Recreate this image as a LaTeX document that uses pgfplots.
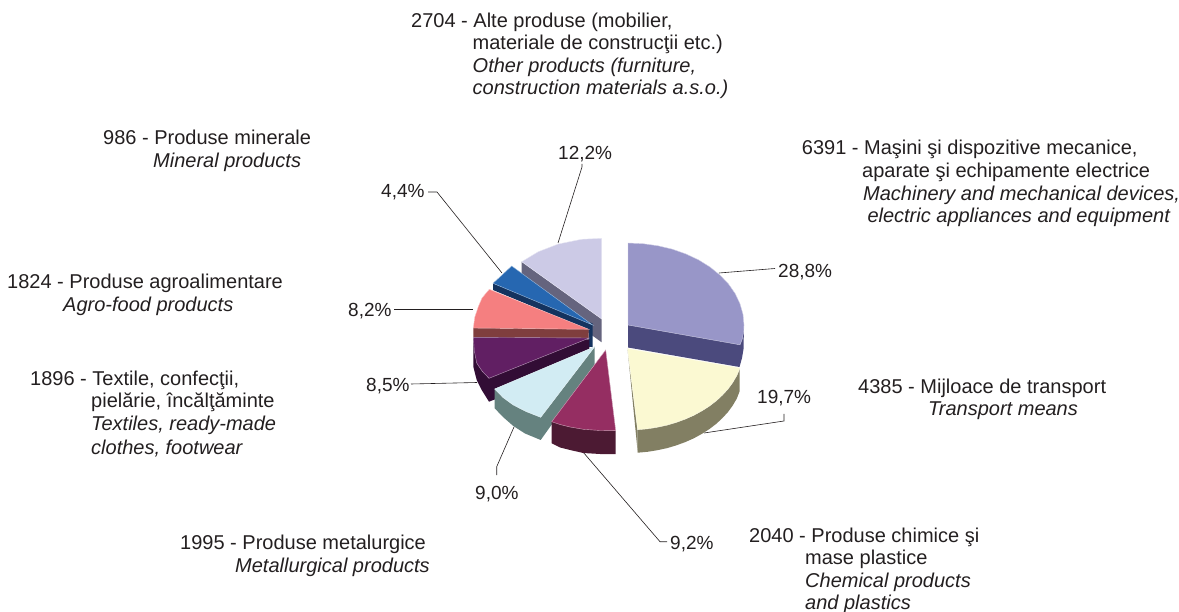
\documentclass[border=0pt]{standalone}
\usepackage{fontspec}
\setmainfont{Liberation Sans}
\usepackage{pgfplots}
\pgfplotsset{compat=1.18}
\definecolor{ink}{HTML}{231F20}
\definecolor{lavTop}{HTML}{9896C8}\definecolor{lavSide}{HTML}{4B4A7D}
\definecolor{yelTop}{HTML}{FBF9D2}\definecolor{yelSide}{HTML}{827F63}
\definecolor{magTop}{HTML}{952E62}\definecolor{magSide}{HTML}{4C1A33}
\definecolor{cyaTop}{HTML}{D2ECF3}\definecolor{cyaSide}{HTML}{65827F}
\definecolor{purTop}{HTML}{611F63}\definecolor{purSide}{HTML}{320D35}
\definecolor{salTop}{HTML}{F57F80}\definecolor{salSide}{HTML}{7F3E3E}
\definecolor{bluTop}{HTML}{2667B1}\definecolor{bluSide}{HTML}{14335F}
\definecolor{lilTop}{HTML}{CCCAE6}\definecolor{lilSide}{HTML}{65647E}
\newcommand{\lbl}[3]{\node[anchor=base west,inner sep=0pt,yshift=-1pt,text=ink,font=\fontsize{20}{24}\selectfont] at (axis cs:#1,#2) {#3};}
\newcommand{\pct}[3]{\node[anchor=base west,inner sep=0pt,yshift=-1pt,text=ink,font=\fontsize{19}{23}\selectfont] at (axis cs:#1,#2) {#3};}
\begin{document}
\begin{tikzpicture}
\begin{axis}[
  scale only axis, width=1179pt, height=612pt,
  xmin=0, xmax=1179, ymin=0, ymax=612, y dir=reverse,
  hide axis, clip=false,
  leader/.style={ink,line width=0.6pt,no markers},
  side/.style={fill=#1,draw=none,no markers},
  top/.style={fill=#1,draw=white!55!#1,line width=0.4pt,no markers}
]
% leader lines
\addplot[leader] coordinates {(719,273)(775,268.5)};
\addplot[leader] coordinates {(704,433)(784,421)(784,414)};
\addplot[leader] coordinates {(583,452)(660,541.7)(667,541.7)};
\addplot[leader] coordinates {(514,427)(496.7,466.7)(496.7,475)};
\addplot[leader] coordinates {(477,382.5)(411,384)};
\addplot[leader] coordinates {(473,309)(394,309)};
\addplot[leader] coordinates {(502,273)(437,192)(428,192)};
\addplot[leader] coordinates {(558,243)(582,167)(582,164)};
% other products
\addplot[side=lilSide] coordinates {(521.7,261.7)(521.7,285)(601.7,342.3)(601.7,319)} -- cycle;
\addplot[top=lilTop] coordinates {(601.7,319)(601.7,238.3)(581.7,239.3)(558.3,244)(538.3,251.7)(521.7,261.7)} -- cycle;
% mineral products
\addplot[side=bluSide] coordinates {(592.7,323.5)(592.7,347)(588.5,347)(588.5,330)(493,290)(493,283.3)} -- cycle;
\addplot[top=bluTop] coordinates {(592.7,325)(511.7,266)(501,276)(493,283.3)} -- cycle;
% agro-food
\addplot[side=salSide] coordinates {(473.3,327)(588.7,329.3)(588.7,338)(473.3,338)} -- cycle;
\addplot[top=salTop] coordinates {(588.7,329.3)(489.3,289.3)(482,298)(478.3,306.7)(474.8,317)(473.3,328)} -- cycle;
% textiles
\addplot[side=purSide] coordinates {(589.3,339.3)(589.3,362.6)(489,401.7)(481.7,390)(476.7,380)(473.3,366.7)(473.3,337.3)} -- cycle;
\addplot[top=purTop] coordinates {(589.3,338)(473.3,337.3)(474.3,351)(476.7,363)(482,371)(489,378.3)} -- cycle;
% metallurgical
\addplot[side=cyaSide] coordinates {(594.7,346.7)(594.7,364.3)(540.7,440)(525,433.5)(513.3,426)(503,417)(494.7,408.3)(494.7,389)} -- cycle;
\addplot[top=cyaTop] coordinates {(594.7,346.7)(494.7,389)(503,397.5)(513.3,405)(526,411.5)(540.7,417.3)} -- cycle;
% chemical
\addplot[side=magSide] coordinates {(551.7,421.7)(551.7,443.3)(560,447.5)(570,450)(583.3,453)(600,454)(615.7,454)(615.7,430.7)} -- cycle;
\addplot[top=magTop] coordinates {(605.7,350)(551.7,421.7)(560,424.5)(570,427)(583.3,429.3)(600,430.5)(615.7,430.7)} -- cycle;
% transport
\addplot[side=yelSide] coordinates {(627.5,348.5)(637.7,429.3)(637.7,452.3)} -- cycle;
\addplot[side=yelSide] coordinates {(739.5,368)(739.5,391.5)(736.9,398.4)(732.6,405.7)(728,412)(722.5,418)(716.4,423.7)(709.5,429)(702,433.8)(694,438.2)(685.5,442)(676.5,445.3)(667.2,448.1)(657.5,450.2)(647.6,451.8)(637.7,452.7)(637.7,429.7)} -- cycle;
\addplot[top=yelTop] coordinates {(627.5,348.5)(740,368)(736.9,375.4)(732.6,382.7)(728,389)(722.5,395)(716.4,400.7)(709.5,406)(702,410.8)(694,415.2)(685.5,419)(676.5,422.3)(667.2,425.1)(657.5,427.2)(647.6,428.8)(637.6,429.7)} -- cycle;
% machinery
\addplot[side=lavSide] coordinates {(628,325)(628,347.5)(739.5,367)(742,358)(743.5,349)(744,325)} -- cycle;
\addplot[top=lavTop] coordinates {(628,325)(628,243)(643.1,243.7)(658,245.8)(672.4,249.2)(686,254)(698.6,259.9)(710,267)(720,275.1)(728.5,284)(735.2,293.6)(740,303.8)(743,314.3)(744,325)(743.6,332.1)(742.2,339.2)(740,344.8)} -- cycle;
% percentages
\pct{558}{159}{12,2\%}
\pct{778}{277}{28,8\%}
\pct{757}{403}{19,7\%}
\pct{381}{197}{4,4\%}
\pct{348}{316}{8,2\%}
\pct{366}{391}{8,5\%}
\pct{475}{498}{9,0\%}
\pct{670}{548}{9,2\%}
% category texts
\lbl{411}{27}{2704 - Alte produse (mobilier,}
\lbl{472.5}{49}{materiale de construcţii etc.)}
\lbl{472.5}{72}{\itshape Other products (furniture,}
\lbl{472.5}{94}{\itshape construction materials a.s.o.)}
\lbl{801.7}{154}{6391 - Maşini şi dispozitive mecanice,}
\lbl{862}{177}{aparate şi echipamente electrice}
\lbl{863}{200}{\itshape Machinery and mechanical devices,}
\lbl{867.3}{222}{\itshape electric appliances and equipment}
\lbl{103}{144}{986 - Produse minerale}
\lbl{153}{167}{\itshape Mineral products}
\lbl{7}{288}{1824 - Produse agroalimentare}
\lbl{63}{311}{\itshape Agro-food products}
\lbl{30}{385}{1896 - Textile, confecţii,}
\lbl{91}{407}{pielărie, încălţăminte}
\lbl{91}{430}{\itshape Textiles, ready-made}
\lbl{91}{453}{\itshape clothes, footwear}
\lbl{180}{548}{1995 - Produse metalurgice}
\lbl{235}{571}{\itshape Metallurgical products}
\lbl{749}{541}{2040 - Produse chimice şi}
\lbl{805}{563}{mase plastice}
\lbl{805}{586}{\itshape Chemical products}
\lbl{805}{608}{\itshape and plastics}
\lbl{858}{393}{4385 - Mijloace de transport}
\lbl{928}{415}{\itshape Transport means}
\end{axis}
\pgfresetboundingbox
\path[use as bounding box] (0,0) rectangle (1179pt,612pt);
\end{tikzpicture}
\end{document}
